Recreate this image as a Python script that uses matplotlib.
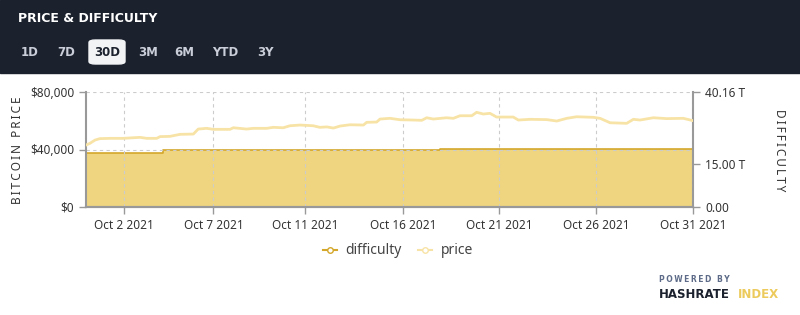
import matplotlib.pyplot as plt
from matplotlib.patches import Rectangle, FancyBboxPatch
from matplotlib.lines import Line2D

# days since Sep 30 2021
price_days = [0.0, 0.20, 0.46, 0.71, 1.23, 1.90, 2.76, 3.10, 3.61, 3.78, 4.29, 4.80,
              5.48, 5.73, 6.16, 6.50, 7.35, 7.52, 8.20, 8.54, 9.22, 9.56, 10.07,
              10.41, 10.92, 11.60, 11.94, 12.29, 12.63, 12.97, 13.48, 14.16, 14.33,
              14.84, 15.01, 15.52, 16.03, 16.71, 17.14, 17.39, 17.73, 18.41, 18.75,
              19.09, 19.69, 19.94, 20.28, 20.62, 20.96, 21.81, 22.07, 22.66, 23.52,
              24.03, 24.54, 25.05, 25.90, 26.24, 26.75, 27.60, 27.94, 28.28, 28.96,
              29.64, 30.49, 31.0]
price = [43100, 44300, 46600, 47600, 47800, 47800, 48500, 47800, 47800, 49000, 49200,
         50600, 50800, 54300, 54800, 54100, 54100, 55200, 54300, 54800, 54800, 55500,
         55200, 56600, 57100, 56600, 55500, 55800, 55000, 56400, 57300, 57100, 59000,
         59200, 61300, 61800, 60800, 60600, 60400, 62200, 61300, 62200, 61800, 63600,
         63600, 66000, 64800, 65300, 62700, 62700, 60600, 61100, 60900, 59900, 61800,
         62900, 62500, 61800, 58700, 58300, 61100, 60600, 62200, 61600, 61800, 60100]

diff_days = [0.0, 3.93, 18.07, 31.0]
difficulty = [19.0, 19.85, 20.15, 20.15]  # T

tick_pos = [1.92, 6.50, 11.18, 16.17, 21.10, 26.05, 31.0]
tick_labels = ["Oct 2 2021", "Oct 7 2021", "Oct 11 2021", "Oct 16 2021",
               "Oct 21 2021", "Oct 26 2021", "Oct 31 2021"]
buttons = ["1D", "7D", "30D", "3M", "6M", "YTD", "3Y"]
button_x = [30, 66, 107, 148, 184, 225, 265]

plt.rcParams['font.family'] = ['Noto Sans', 'DejaVu Sans']
BOLD = ['DejaVu Sans']
TS = "\u2009"  # thin space for letter spacing


def spaced(s):
    return TS.join(s)


fig = plt.figure(figsize=(8, 3.15), dpi=100)
W, H = 800, 315

# header band
fig.patches.append(Rectangle((0, 1 - 73 / H), 1, 73 / H, transform=fig.transFigure,
                             color="#1b212d", zorder=0))
fig.text(18 / W, 1 - 18 / H, "PRICE & DIFFICULTY", family=BOLD,
         color="white", fontsize=9, fontweight="bold", va="center", ha="left")
fig.patches.append(FancyBboxPatch((89 / W, 1 - 64 / H), 36 / W, 24 / H,
                                  boxstyle="round,pad=0,rounding_size=0.008",
                                  transform=fig.transFigure, color="#f2f3f5", zorder=1))
for b, bx in zip(buttons, button_x):
    fig.text(bx / W, 1 - 52 / H, b, color="#1b212d" if b == "30D" else "#c9ced8",
             family=BOLD, fontsize=8.5, fontweight="bold", ha="center", va="center", zorder=2)

ax = fig.add_axes([86 / W, 1 - 206.7 / H, (693.3 - 86) / W, (206.7 - 92.3) / H])
ax2 = ax.twinx()

ax2.fill_between(diff_days, difficulty, step="post", color="#efd57f", lw=0)
ax2.step(diff_days, difficulty, where="post", color="#d4a72a", lw=1.2)
ax.plot(price_days, price, color="#f8e3a6", lw=2, zorder=3)
ax.set_zorder(ax2.get_zorder() + 1)
ax.patch.set_visible(False)

ax.set_xlim(0, 31)
ax.set_ylim(0, 80000)
ax2.set_ylim(0, 40.16)
ax.set_yticks([0, 40000, 80000])
ax.set_yticklabels(["$0", "$40,000", "$80,000"])
ax2.set_yticks([0, 15, 40.16])
ax2.set_yticklabels(["0.00", "15.00 T", "40.16 T"])
ax.set_xticks(tick_pos)
ax.set_xticklabels(tick_labels)

ax.grid(True, color="#cccccc", ls=(0, (3, 3)), lw=0.8)
for a in (ax, ax2):
    a.spines["top"].set_visible(False)
    for s in ("left", "right", "bottom"):
        a.spines[s].set_color("#999999")
        a.spines[s].set_linewidth(1.5)
    a.tick_params(colors="#333333", labelsize=8.5, length=5, width=1)
    a.tick_params(axis="both", color="#999999")
ax2.spines["left"].set_visible(False)
ax.spines["right"].set_visible(False)

fig.text(18 / W, 1 - 150 / H, spaced("BITCOIN PRICE"), rotation=90,
         ha="center", va="center", fontsize=8.5, color="#333333")
fig.text(779 / W, 1 - 150 / H, spaced("DIFFICULTY"), rotation=270,
         ha="center", va="center", fontsize=8.5, color="#333333")

handles = [Line2D([], [], color="#d4a72a", marker="o", markerfacecolor="white", ms=4, lw=1.5),
           Line2D([], [], color="#f8e3a6", marker="o", markerfacecolor="white", ms=4, lw=1.5)]
fig.legend(handles, ["difficulty", "price"], loc="center", bbox_to_anchor=(398 / W, 1 - 251 / H),
           ncol=2, frameon=False, fontsize=10, handlelength=1.0, handletextpad=0.6,
           columnspacing=1.2, labelcolor="#444444")

fig.text(659 / W, 1 - 280 / H, spaced("POWERED BY"), family=BOLD, fontsize=5.5,
         fontweight="bold", color="#5d6b88", ha="left", va="center")
fig.text(659 / W, 1 - 294 / H, "HASHRATE", family=BOLD, fontsize=8.5, fontweight="bold",
         color="#1b212d", ha="left", va="center")
fig.text(738 / W, 1 - 294 / H, "INDEX", family=BOLD, fontsize=8.5, fontweight="bold",
         color="#eccb5c", ha="left", va="center")

fig.savefig("out.png", dpi=100)
